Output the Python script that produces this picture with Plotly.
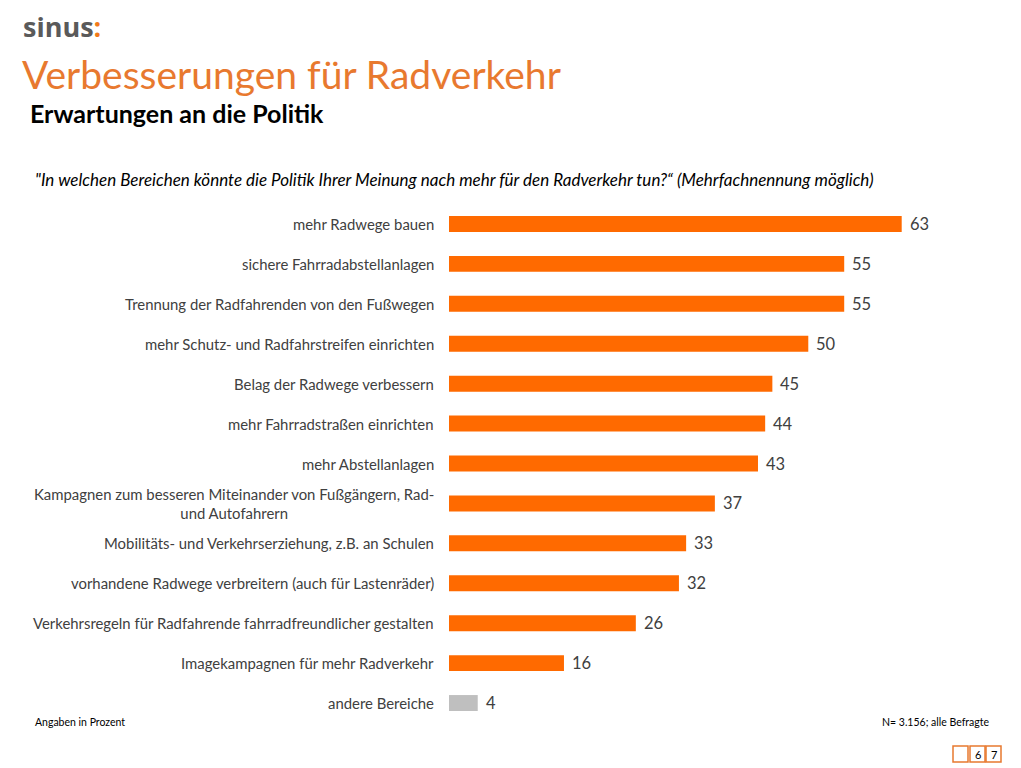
import plotly.graph_objects as go

categories = [
    "mehr Radwege bauen",
    "sichere Fahrradabstellanlagen",
    "Trennung der Radfahrenden von den Fußwegen",
    "mehr Schutz- und Radfahrstreifen einrichten",
    "Belag der Radwege verbessern",
    "mehr Fahrradstraßen einrichten",
    "mehr Abstellanlagen",
    "Kampagnen zum besseren Miteinander von Fußgängern, Rad-<br>und Autofahrern",
    "Mobilitäts- und Verkehrserziehung, z.B. an Schulen",
    "vorhandene Radwege verbreitern (auch für Lastenräder)",
    "Verkehrsregeln für Radfahrende fahrradfreundlicher gestalten",
    "Imagekampagnen für mehr Radverkehr",
    "andere Bereiche",
]
values = [63, 55, 55, 50, 45, 44, 43, 37, 33, 32, 26, 16, 4]
bar_colors = ["#FF6A00"] * 12 + ["#BFBFBF"]
page_labels = ["", "6", "7"]

# the page body has an 8px margin, so screen positions are shifted by 8
OFF = 8
W, H = 1021, 768
ML, MR, MT, MB = 449 - OFF, 69 + OFF, 204 - OFF, 45 + OFF
PW, PH = W - ML - MR, H - MT - MB


def px(x):
    return (x - OFF - ML) / PW


def py(y):
    return (H - MB - (y - OFF)) / PH


txt = "#404040"
font = "Lato"

fig = go.Figure()
fig.add_trace(go.Bar(
    x=values, y=categories, orientation="h",
    marker=dict(color=bar_colors, line=dict(width=0)),
    width=0.4,
))

annotations = []
for c, v in zip(categories, values):
    annotations.append(dict(
        x=0, y=c, xref="paper", yref="y", text=c, showarrow=False,
        xanchor="right", yanchor="middle", align="center", xshift=-13,
        font=dict(family=font, size=14.9, color=txt),
    ))
    annotations.append(dict(
        x=v, y=c, xref="x", yref="y", text=str(v), showarrow=False,
        xanchor="left", yanchor="middle", xshift=6,
        font=dict(family=font, size=16.5, color=txt),
    ))

annotations += [
    dict(x=px(21), y=py(26), xref="paper", yref="paper", showarrow=False,
         xanchor="left", yanchor="middle",
         text="<b>sinus<span style='color:#F07A1A'>:</span></b>",
         font=dict(family="Open Sans", size=27, color="#5A5A5A")),
    dict(x=px(20), y=py(74), xref="paper", yref="paper", showarrow=False,
         xanchor="left", yanchor="middle", text="Verbesserungen für Radverkehr",
         font=dict(family=font, size=39, color="#E8792F")),
    dict(x=px(28), y=py(113), xref="paper", yref="paper", showarrow=False,
         xanchor="left", yanchor="middle", text="<b>Erwartungen an die Politik</b>",
         font=dict(family=font, size=25, color="#000000")),
    dict(x=px(33), y=py(179), xref="paper", yref="paper", showarrow=False,
         xanchor="left", yanchor="middle",
         text="<i>\"In welchen Bereichen könnte die Politik Ihrer Meinung nach mehr für den Radverkehr tun?“ (Mehrfachnennung möglich)</i>",
         font=dict(family=font, size=17, color="#000000")),
    dict(x=px(33), y=py(722), xref="paper", yref="paper", showarrow=False,
         xanchor="left", yanchor="middle", text="Angaben in Prozent",
         font=dict(family=font, size=10.5, color="#000000")),
    dict(x=px(992), y=py(722), xref="paper", yref="paper", showarrow=False,
         xanchor="right", yanchor="middle", text="N= 3.156; alle Befragte",
         font=dict(family=font, size=10.5, color="#000000")),
]

shapes = []
for x0, label in zip([953, 970, 986], page_labels):
    shapes.append(dict(
        type="rect", xref="paper", yref="paper",
        x0=px(x0), x1=px(x0 + 15), y0=py(762), y1=py(746),
        line=dict(color="#E8792F", width=1.5), fillcolor="white",
    ))
    if label:
        annotations.append(dict(
            x=px(x0 + 7.5), y=py(754), xref="paper", yref="paper",
            showarrow=False, xanchor="center", yanchor="middle", text=label,
            font=dict(family=font, size=11, color="#000000"),
        ))

fig.update_layout(
    width=W, height=H,
    margin=dict(l=ML, r=MR, t=MT, b=MB),
    paper_bgcolor="white", plot_bgcolor="white",
    showlegend=False,
    xaxis=dict(range=[0, 70], visible=False),
    yaxis=dict(autorange="reversed", showticklabels=False, showgrid=False,
               zeroline=False, showline=False, ticks=""),
    annotations=annotations,
    shapes=shapes,
)

fig.write_html("out.html")
